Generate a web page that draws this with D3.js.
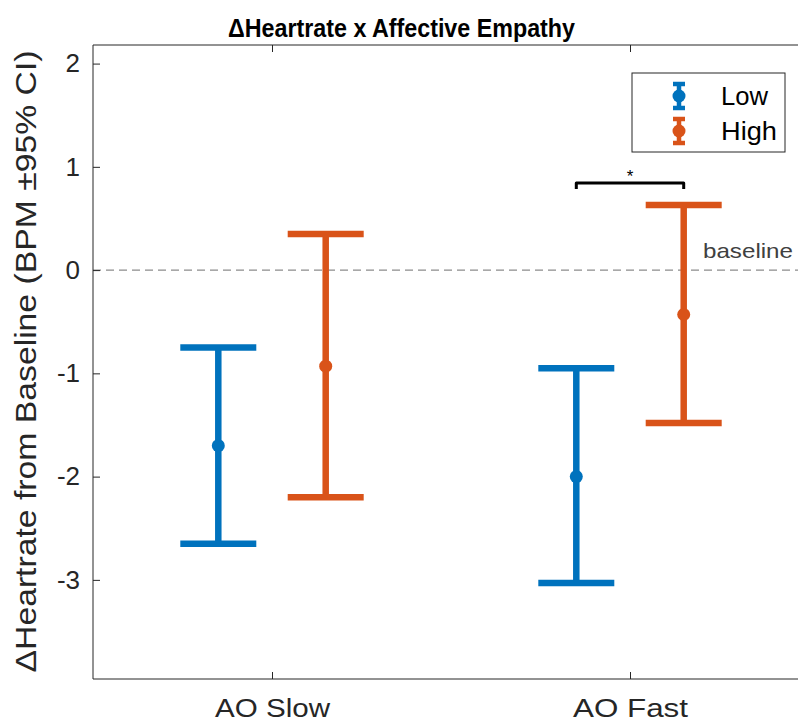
<!DOCTYPE html>
<html>
<head>
<meta charset="utf-8">
<script src="https://cdn.jsdelivr.net/npm/d3@7"></script>
<style>
  body { margin: 0; background: #fff; }
  svg { display: block; font-family: "Liberation Sans", Arial, sans-serif; }
</style>
</head>
<body>
<svg id="chart" width="798" height="725"></svg>
<script>
// Conditions on the x axis and the two empathy groups
const categories = ["AO Slow", "AO Fast"];
const groups = ["Low", "High"];
const groupColors = ["#0072BD", "#D95319"];
const groupOffsets = [-0.15, 0.15];

// Mean change and 95% CI bounds, per group, per condition
const lowMean  = [-1.70, -2.00];
const lowUpper = [-0.75, -0.95];
const lowLower = [-2.65, -3.03];
const highMean  = [-0.93, -0.43];
const highUpper = [0.35, 0.63];
const highLower = [-2.20, -1.48];

const yTicks = [-3, -2, -1, 0, 1, 2];
const yDomain = [-3.96, 2.18];
const xDomain = [0.5, 2.5];

const svg = d3.select("#chart");
const x = d3.scaleLinear().domain(xDomain).range([93, 809]);
const y = d3.scaleLinear().domain(yDomain).range([679, 45]);
const axisColor = "#262626";
const font = "Liberation Sans, Arial, sans-serif";

// Baseline reference line
svg.append("line")
  .attr("x1", x(xDomain[0])).attr("x2", x(xDomain[1]))
  .attr("y1", y(0)).attr("y2", y(0))
  .attr("stroke", "#8c8c8c").attr("stroke-width", 1.3)
  .attr("stroke-dasharray", "8,5");
svg.append("text")
  .attr("x", 703).attr("y", y(0) - 12)
  .attr("font-size", 21).attr("fill", "#404040")
  .attr("textLength", 90).attr("lengthAdjust", "spacingAndGlyphs")
  .text("baseline");

// Axis box (top and bottom edges)
[yDomain[1], yDomain[0]].forEach(v => {
  svg.append("line").attr("x1", x(xDomain[0])).attr("x2", x(xDomain[1]))
    .attr("y1", y(v)).attr("y2", y(v))
    .attr("stroke", axisColor).attr("stroke-width", 1);
});

// Y axis with inward ticks
const yAxis = d3.axisLeft(y).tickValues(yTicks).tickSize(-7).tickPadding(13)
  .tickFormat(d => String(d));
const yg = svg.append("g").attr("transform", `translate(${x(xDomain[0])},0)`).call(yAxis);
yg.select(".domain").attr("stroke", axisColor).attr("d", `M0,${y(yDomain[1])}V${y(yDomain[0])}`);
yg.selectAll(".tick line").attr("stroke", axisColor);
yg.selectAll(".tick text").attr("font-size", 26).attr("fill", axisColor)
  .attr("font-family", font);

// X axis with inward ticks (bottom), plus top ticks
const xAxis = d3.axisBottom(x).tickValues([1, 2]).tickSize(-7).tickPadding(20)
  .tickFormat((d, i) => categories[i]);
const xg = svg.append("g").attr("transform", `translate(0,${y(yDomain[0])})`).call(xAxis);
xg.select(".domain").remove();
xg.selectAll(".tick line").attr("stroke", axisColor);
xg.selectAll(".tick text").attr("font-size", 26).attr("fill", axisColor)
  .attr("font-family", font)
  .attr("textLength", 115).attr("lengthAdjust", "spacingAndGlyphs");
const xTop = d3.axisTop(x).tickValues([1, 2]).tickSize(-7).tickFormat("");
const xt = svg.append("g").attr("transform", `translate(0,${y(yDomain[1])})`).call(xTop);
xt.select(".domain").remove();
xt.selectAll(".tick line").attr("stroke", axisColor);

// Error bars
const series = [
  { mean: lowMean, upper: lowUpper, lower: lowLower },
  { mean: highMean, upper: highUpper, lower: highLower }
];
const capHalf = 38;
series.forEach((s, gi) => {
  const g = svg.append("g").attr("stroke", groupColors[gi]).attr("fill", groupColors[gi]);
  categories.forEach((c, ci) => {
    const cx = x(ci + 1 + groupOffsets[gi]);
    g.append("line").attr("x1", cx).attr("x2", cx)
      .attr("y1", y(s.upper[ci])).attr("y2", y(s.lower[ci])).attr("stroke-width", 6.5);
    [s.upper[ci], s.lower[ci]].forEach(v => {
      g.append("line").attr("x1", cx - capHalf).attr("x2", cx + capHalf)
        .attr("y1", y(v)).attr("y2", y(v)).attr("stroke-width", 6.5);
    });
    g.append("circle").attr("cx", cx).attr("cy", y(s.mean[ci])).attr("r", 6.5).attr("stroke", "none");
  });
});

// Significance bracket between groups in AO Fast
const bx1 = x(2 + groupOffsets[0]), bx2 = x(2 + groupOffsets[1]);
const by = 183;
svg.append("path")
  .attr("d", `M${bx1},${by + 6}V${by}H${bx2}V${by + 6}`)
  .attr("fill", "none").attr("stroke", "#000").attr("stroke-width", 3)
  .attr("stroke-linejoin", "round");
svg.append("text").attr("x", (bx1 + bx2) / 2).attr("y", by - 1)
  .attr("text-anchor", "middle").attr("font-size", 17).attr("fill", "#000").text("*");

// Legend
const lg = svg.append("g");
lg.append("rect").attr("x", 632).attr("y", 73).attr("width", 153).attr("height", 79)
  .attr("fill", "#fff").attr("stroke", "#262626").attr("stroke-width", 1);
groups.forEach((name, i) => {
  const ly = 96 + i * 35;
  const lx = 679;
  const ig = lg.append("g").attr("stroke", groupColors[i]).attr("fill", groupColors[i]);
  ig.append("line").attr("x1", lx).attr("x2", lx).attr("y1", ly - 12).attr("y2", ly + 12).attr("stroke-width", 4.5);
  ig.append("line").attr("x1", lx - 6).attr("x2", lx + 6).attr("y1", ly - 12).attr("y2", ly - 12).attr("stroke-width", 4.5);
  ig.append("line").attr("x1", lx - 6).attr("x2", lx + 6).attr("y1", ly + 12).attr("y2", ly + 12).attr("stroke-width", 4.5);
  ig.append("circle").attr("cx", lx).attr("cy", ly).attr("r", 6.5).attr("stroke", "none");
  lg.append("text").attr("x", 721).attr("y", ly + 9).attr("font-size", 26).attr("fill", "#000")
    .attr("textLength", i === 0 ? 47 : 56).attr("lengthAdjust", "spacingAndGlyphs")
    .text(name);
});

// Title
svg.append("text").attr("x", 401.5).attr("y", 37).attr("text-anchor", "middle")
  .attr("font-size", 26).attr("font-weight", "bold").attr("fill", "#000")
  .attr("textLength", 347).attr("lengthAdjust", "spacingAndGlyphs")
  .text("ΔHeartrate x Affective Empathy");

// Y axis label
svg.append("text")
  .attr("transform", `translate(36,361.5) rotate(-90)`)
  .attr("text-anchor", "middle").attr("font-size", 29).attr("fill", axisColor)
  .attr("textLength", 622).attr("lengthAdjust", "spacingAndGlyphs")
  .text("ΔHeartrate from Baseline (BPM ±95% CI)");
</script>
</body>
</html>
